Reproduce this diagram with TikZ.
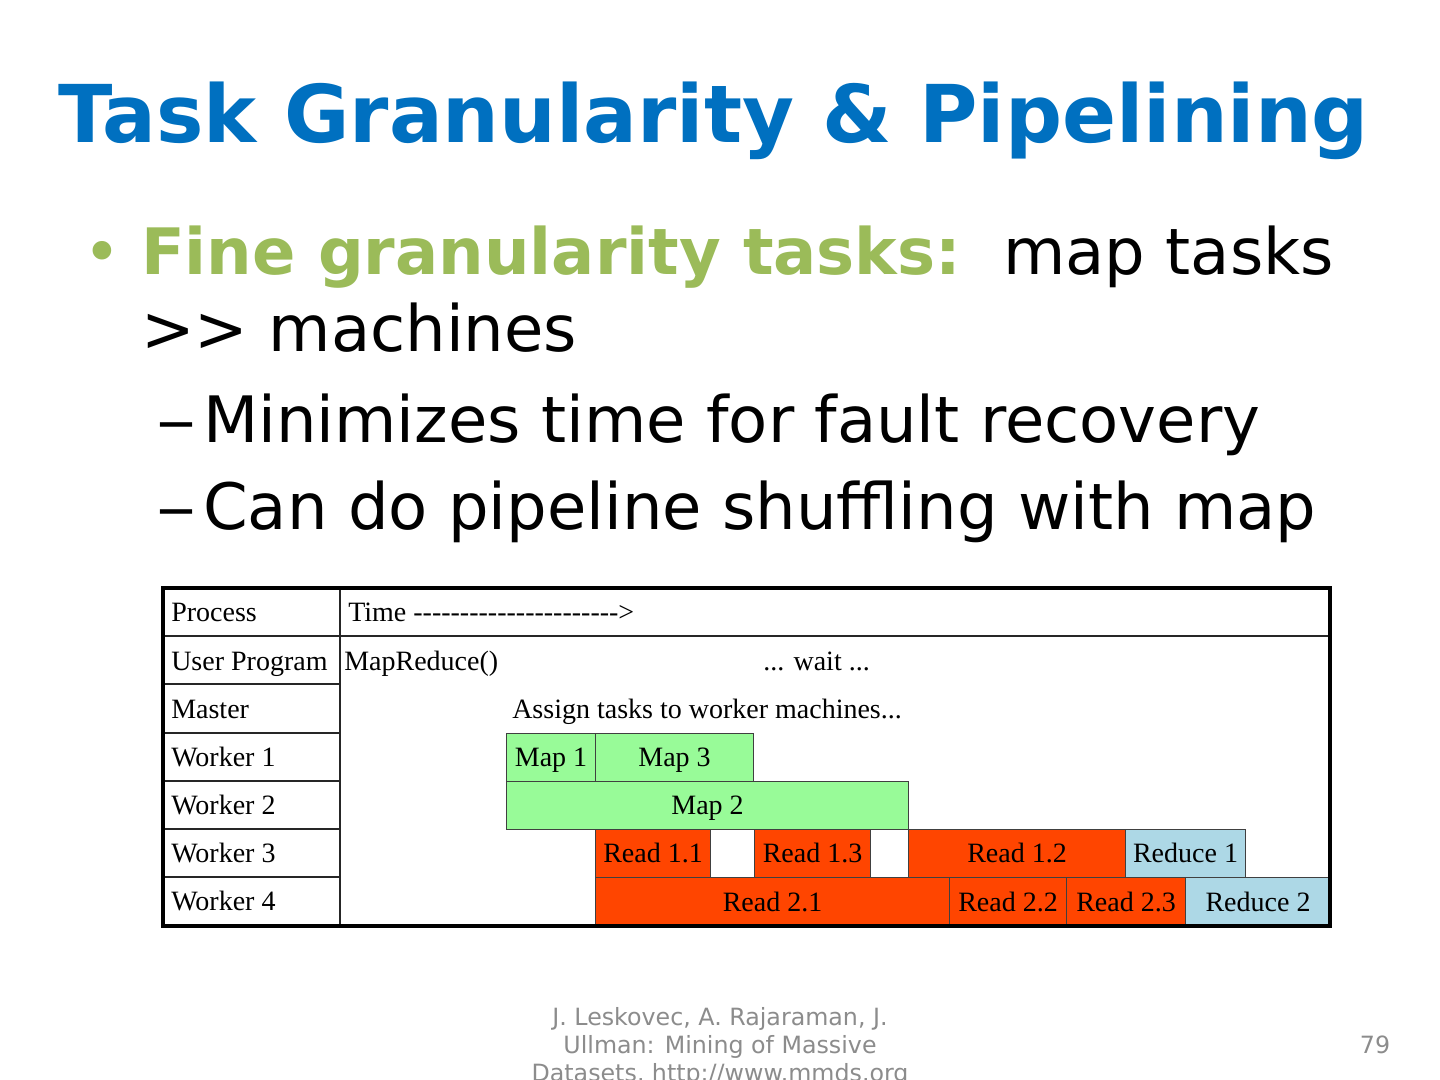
\documentclass[tikz,border=0pt]{standalone}
\usepackage{fontspec}
\usepackage{graphicx}
\setmainfont{DejaVu Sans}
\newfontfamily\tabfont{Liberation Serif}
\definecolor{titleblue}{HTML}{0070C0}
\definecolor{bulgreen}{HTML}{9BBB59}
\definecolor{mapgreen}{HTML}{98FB98}
\definecolor{readred}{HTML}{FF4500}
\definecolor{redblue}{HTML}{ADD8E6}
\definecolor{footgray}{HTML}{8C8C8C}
\newcommand\hy{\mbox{-}}
\newcommand\tbox[7]{\node[tbox, fill=#6, minimum width={(#4-#2)*0.75pt}, minimum height={(#5-#3)*0.75pt}] (#1) at (#2,#3) {#7};}
\tikzset{
  txt/.style={anchor=base west, inner sep=0},
  body/.style={txt, font=\fontsize{48}{58}\selectfont},
  tabtxt/.style={txt, font=\tabfont\fontsize{21}{24}\selectfont},
  tbox/.style={draw=black!75, line width=0.8pt, anchor=north west, inner sep=0, text height=16.75pt, text depth=3.25pt, font=\tabfont\fontsize{21}{24}\selectfont},
  grid/.style={line width=0.9pt, draw=black!85},
  foot/.style={anchor=base, inner sep=0, text=footgray, font=\fontsize{17.8}{21}\selectfont}
}
\begin{document}
\begin{tikzpicture}[x=0.75pt,y=-0.75pt]
\useasboundingbox (0,0) rectangle (1440,1080);
\clip (0,0) rectangle (1440,1080);
\fill[white] (0,0) rectangle (1440,1080);

% title
\node[txt, text=titleblue, font=\fontsize{59.8}{70}\selectfont\bfseries] (title) at (58,143) {Task Granularity \& Pipelining};

% bullets
\node[body, text=bulgreen] (dot) at (83,275) {•};
\node[body, text=bulgreen, font=\fontsize{48}{58}\selectfont\bfseries] (fine) at (141,275) {Fine granularity tasks:};
\node[body] (maptasks) at (1003,275) {map tasks};
\node[body] (machines) at (141,352) {\mbox{>}\mbox{>} machines};
\node[body] (d1) at (156,443) {\scalebox{1.25}[1]{–}};
\node[body] (s1) at (203,443) {Minimizes time for fault recovery};
\node[body] (d2) at (156,530) {\scalebox{1.25}[1]{–}};
\node[body] (s2) at (203,530) {Can do pipeline shuffling with map};

% task boxes
\tbox{map1}{506}{733}{595}{781}{mapgreen}{Map 1}
\tbox{map3}{595}{733}{753}{781}{mapgreen}{Map 3}
\tbox{map2}{506}{781}{908}{829}{mapgreen}{Map 2}
\tbox{r11}{595}{829}{710}{877}{readred}{Read 1.1}
\tbox{gap1}{710}{829}{754}{877}{white}{}
\tbox{r13}{754}{829}{870}{877}{readred}{Read 1.3}
\tbox{gap2}{870}{829}{908}{877}{white}{}
\tbox{r12}{908}{829}{1125}{877}{readred}{Read 1.2}
\tbox{red1}{1125}{829}{1245}{877}{redblue}{Reduce 1}
\tbox{r21}{595}{877}{949}{926}{readred}{Read 2.1}
\tbox{r22}{949}{877}{1066}{926}{readred}{Read 2.2}
\tbox{r23}{1066}{877}{1185}{926}{readred}{Read 2.3}
\tbox{red2}{1185}{877}{1330}{926}{redblue}{Reduce 2}

% grid lines
\draw[grid] (340,588) -- (340,926);
\draw[grid] (163,636) -- (1330,636);
\foreach \yy in {684,733,781,829,877} \draw[grid] (163,\yy) -- (340,\yy);
\draw[line width=2.4pt] (163,588) rectangle (1330,926);

% table texts
\node[tabtxt] (hproc) at (171,622) {Process};
\node[tabtxt] (htime) at (348,622) {Time \hy\hy\hy\hy\hy\hy\hy\hy\hy\hy\hy\hy\hy\hy\hy\hy\hy\hy\hy\hy\hy\hy\mbox{>}};
\node[tabtxt] (luser) at (171,670) {User Program};
\node[tabtxt] (lmaster) at (171,718) {Master};
\node[tabtxt] (lw1) at (171,766) {Worker 1};
\node[tabtxt] (lw2) at (171,814) {Worker 2};
\node[tabtxt] (lw3) at (171,862) {Worker 3};
\node[tabtxt] (lw4) at (171,910) {Worker 4};
\node[tabtxt] (mr) at (344,670) {MapReduce()};
\node[tabtxt] (wait) at (763,670) {... wait ...};
\node[tabtxt] (assign) at (512,718) {Assign tasks to worker machines...};

% footer
\node[foot] (f1) at (720,1025) {J. Leskovec, A. Rajaraman, J.};
\node[foot] (f2) at (720,1053) {Ullman: Mining of Massive};
\node[foot] (f3) at (720,1081) {Datasets, http://www.mmds.org};
\node[foot] (page) at (1375,1053) {79};
\end{tikzpicture}
\end{document}
